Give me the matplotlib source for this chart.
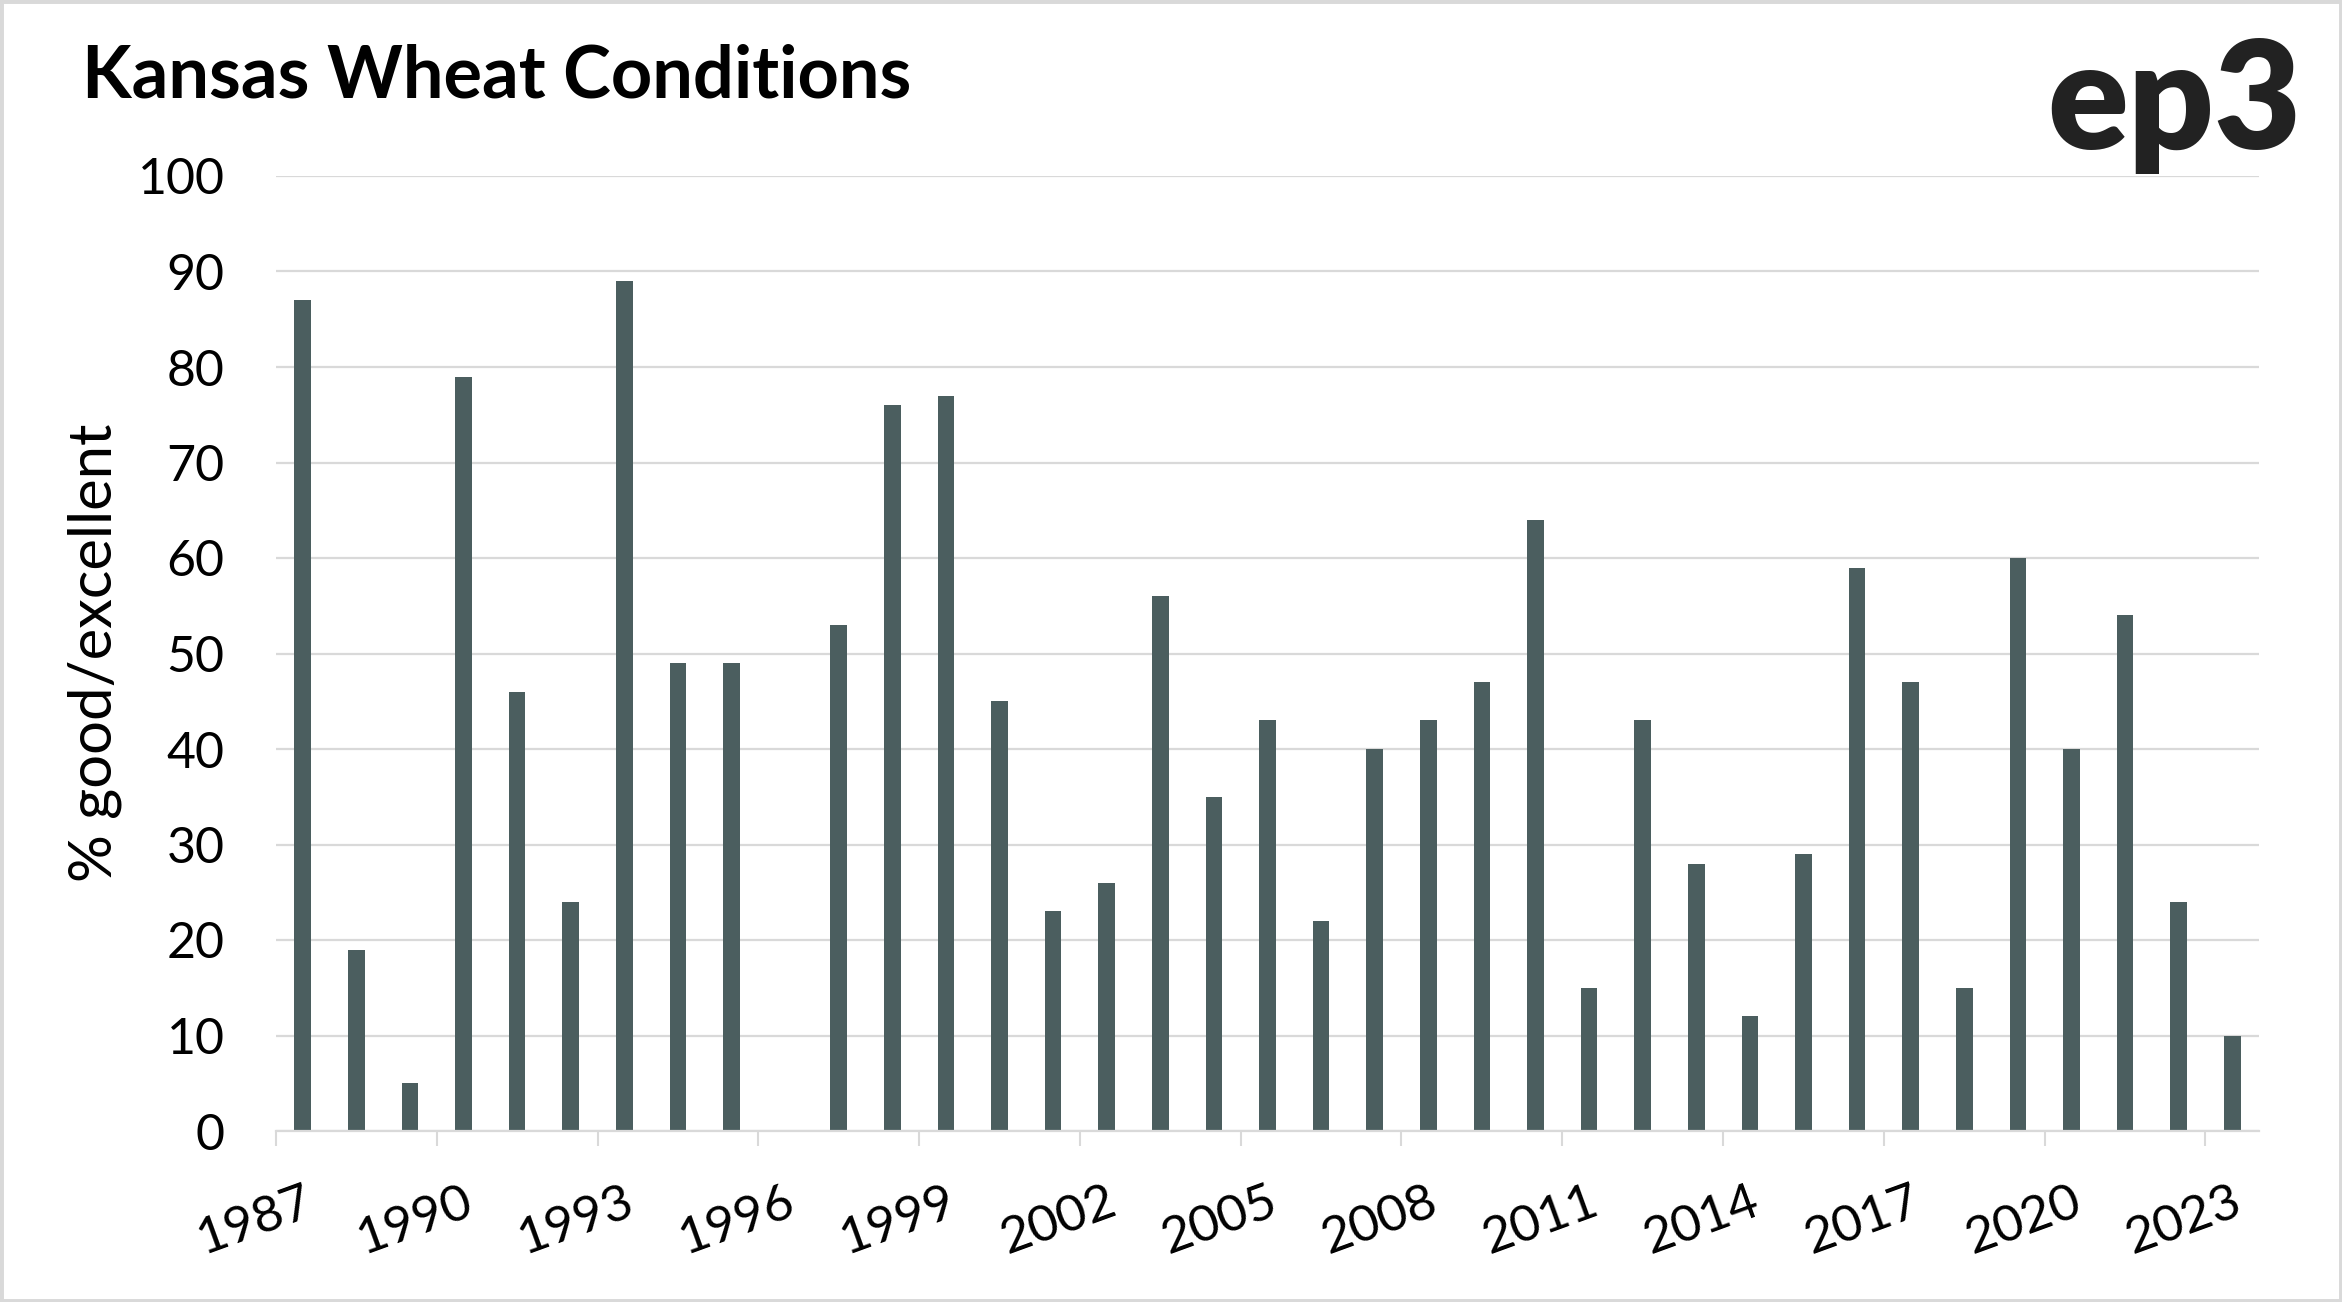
import numpy as np
import matplotlib
matplotlib.use("Agg")
import matplotlib.pyplot as plt
from matplotlib.patches import Rectangle

years = list(range(1987, 2024))
values = [87, 19, 5, 79, 46, 24, 89, 49, 49, np.nan, 53, 76, 77, 45, 23, 26, 56, 35, 43, 22,
          40, 43, 47, 64, 15, 43, 28, 12, 29, 59, 47, 15, 60, 40, 54, 24, 10]
yticks = [0, 10, 20, 30, 40, 50, 60, 70, 80, 90, 100]
label_years = years[::3]

title = "Kansas Wheat Conditions"
ylabel = "% good/excellent"
logo = "ep3"

BAR = "#4b5e5f"
GRID = "#d9d9d9"
FONT = "Lato"

fig = plt.figure(figsize=(23.42, 13.02), dpi=100)
ax = fig.add_axes([276/2342, 1 - 1131/1302, (2259-276)/2342, (1131-176)/1302])

x = np.arange(len(years))
vals = np.array(values, dtype=float)
mask = ~np.isnan(vals)
ax.bar(x[mask], vals[mask], width=0.31, color=BAR, linewidth=0, zorder=3)

ax.set_xlim(-0.5, len(years) - 0.5)
ax.set_ylim(0, 100)
ax.set_yticks(yticks)
ax.set_yticklabels([str(v) for v in yticks], fontfamily=FONT, fontsize=36)
ax.tick_params(axis='y', length=0, pad=37)
ax.yaxis.grid(True, color=GRID, linewidth=1.6, zorder=0)
ax.set_axisbelow(True)

# ticks at category boundaries, labels at category centres
ax.set_xticks(np.arange(-0.5, len(years), 3))
ax.set_xticklabels([])
ax.tick_params(axis='x', which='major', length=11, width=1.5, color=GRID)
ax.set_xticks([years.index(y) for y in label_years], minor=True)
ax.set_xticklabels([str(y) for y in label_years], minor=True, fontfamily=FONT,
                   fontsize=37, rotation=20, ha='right', va='top', rotation_mode='anchor')
ax.tick_params(axis='x', which='minor', length=0, pad=34)

for s in ['top', 'right', 'left']:
    ax.spines[s].set_visible(False)
ax.spines['bottom'].set_color(GRID)
ax.spines['bottom'].set_linewidth(1.6)
ax.spines['bottom'].set_zorder(4)

fig.text(0.0405, 0.4985, ylabel, rotation=90, ha='center', va='center',
         fontfamily=FONT, fontsize=43)
fig.text(82/2342, 1 - 97/1302, title, ha='left', va='baseline',
         fontfamily=FONT, fontweight='bold', fontsize=52, color='black')
fig.text(2301/2342, 1 - 149/1302, logo, ha='right', va='baseline',
         fontfamily=FONT, fontweight='heavy', fontsize=108, color='#222222')

fig.add_artist(Rectangle((0, 0), 1, 1, transform=fig.transFigure, fill=False,
                         edgecolor=GRID, linewidth=5))

fig.savefig("out.png", dpi=100, facecolor='white')
